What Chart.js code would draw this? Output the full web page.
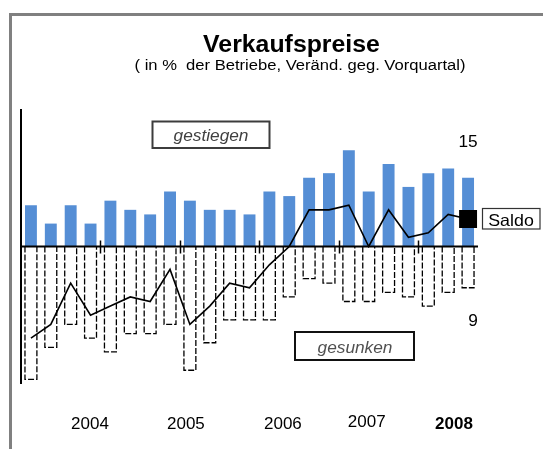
<!DOCTYPE html>
<html>
<head>
<meta charset="utf-8">
<script src="https://cdn.jsdelivr.net/npm/chart.js@4.4.1/dist/chart.umd.min.js"></script>
<style>
    html, body { margin: 0; padding: 0; background: #fff; }
    #wrap { position: relative; width: 543px; height: 449px; overflow: hidden; }
    #frame { position: absolute; left: 9px; top: 13px; right: -10px; bottom: -10px;
             border-left: 3px solid #808080; border-top: 3px solid #808080; pointer-events: none; }
    canvas { position: absolute; left: 0; top: 0; }
</style>
</head>
<body>
<div id="wrap">
    <canvas id="chart" width="543" height="449"></canvas>
    <div id="frame"></div>
</div>
<script>
const quarters = [
    '2003 Q1', '2003 Q2', '2003 Q3', '2003 Q4',
    '2004 Q1', '2004 Q2', '2004 Q3', '2004 Q4',
    '2005 Q1', '2005 Q2', '2005 Q3', '2005 Q4',
    '2006 Q1', '2006 Q2', '2006 Q3', '2006 Q4',
    '2007 Q1', '2007 Q2', '2007 Q3', '2007 Q4',
    '2008 Q1', '2008 Q2', '2008 Q3'
];
const gestiegen = [9, 5, 9, 5, 10, 8, 7, 12, 10, 8, 8, 7, 12, 11, 15, 16, 21, 12, 18, 13, 16, 17, 15];
const gesunken = [-29, -22, -17, -20, -23, -19, -19, -17, -27, -21, -16, -16, -16, -11, -7, -8, -12, -12, -10, -11, -13, -10, -9];
const saldo = [-20, -17, -8, -15, -13, -11, -12, -5, -17, -13, -8, -9, -4, 0, 8, 8, 9, 0, 8, 2, 3, 7, 6];
const yearLabels = ['2004', '2005', '2006', '2007', '2008'];

// where the year captions sit, in category units (they are not centred on the groups)
const yearAt = [2.97, 7.8, 12.68, 16.9, 21.29];

const lastIdx = gestiegen.length - 1;

function drawText(ctx, txt, x, y, font, color, sx) {
    ctx.save();
    ctx.font = font;
    ctx.fillStyle = color;
    ctx.textAlign = 'center';
    ctx.textBaseline = 'alphabetic';
    ctx.translate(x, y);
    ctx.scale(sx || 1, 1);
    ctx.fillText(txt, 0, 0);
    ctx.restore();
}

function drawBox(ctx, x1, y1, x2, y2, color, lw) {
    ctx.save();
    ctx.strokeStyle = color;
    ctx.lineWidth = lw;
    ctx.strokeRect(x1, y1, x2 - x1, y2 - y1);
    ctx.restore();
}

const decor = {
    id: 'decor',
    afterDatasetDraw(chart, args) {
        if (args.index !== 1) return;
        const ctx = chart.ctx;
        ctx.save();
        ctx.strokeStyle = '#000';
        ctx.lineWidth = 1.3;
        ctx.setLineDash([6, 2]);
        args.meta.data.forEach(bar => {
            const p = bar.getProps(['x', 'y', 'base', 'width'], true);
            const l = p.x - p.width / 2, r = p.x + p.width / 2;
            ctx.beginPath();
            ctx.moveTo(l, p.base);
            ctx.lineTo(l, p.y);
            ctx.lineTo(r, p.y);
            ctx.lineTo(r, p.base);
            ctx.stroke();
        });
        ctx.restore();
    },
    afterDatasetsDraw(chart) {
        const ctx = chart.ctx;
        const xs = chart.scales.x, ys = chart.scales.y;
        const area = chart.chartArea;
        const y0 = ys.getPixelForValue(0);
        ctx.save();
        ctx.strokeStyle = '#000';
        // left axis
        ctx.lineWidth = 2;
        ctx.beginPath();
        ctx.moveTo(area.left, area.top);
        ctx.lineTo(area.left, area.bottom);
        ctx.stroke();
        // zero line
        ctx.beginPath();
        ctx.moveTo(area.left, y0);
        ctx.lineTo(area.right, y0);
        ctx.stroke();
        // year boundaries
        ctx.lineWidth = 1.5;
        for (let i = 4; i < quarters.length; i += 4) {
            const x = Math.round(xs.getPixelForValue(i - 0.5)) + 0.5;
            ctx.beginPath();
            ctx.moveTo(x, y0 - 6);
            ctx.lineTo(x, y0 + 7);
            ctx.stroke();
        }
        ctx.restore();
    },
    afterDraw(chart) {
        const ctx = chart.ctx;
        const xs = chart.scales.x;
        const font = '"Liberation Sans", Arial, sans-serif';

        drawText(ctx, 'Verkaufspreise', 291.5, 52, 'bold 23px ' + font, '#000', 1.08);
        drawText(ctx, '( in %  der Betriebe, Veränd. geg. Vorquartal)', 300, 70, '15.5px ' + font, '#000', 1.07);

        drawBox(ctx, 152.5, 121.5, 269.5, 148, '#3c3c3c', 2);
        drawText(ctx, 'gestiegen', 211, 141, 'italic 16px ' + font, '#404040', 1.08);

        drawBox(ctx, 295, 332, 414, 360, '#111', 2);
        drawText(ctx, 'gesunken', 355, 353, 'italic 16px ' + font, '#505050', 1.08);

        drawBox(ctx, 482.5, 208.5, 540, 229, '#333', 1.2);
        drawText(ctx, 'Saldo', 511, 226, '16.5px ' + font, '#000', 1.08);

        // latest values next to the last bars
        const up = chart.getDatasetMeta(0).data[lastIdx];
        const down = chart.getDatasetMeta(1).data[lastIdx];
        drawText(ctx, String(gestiegen[lastIdx]), up.x, up.y - 31, '16px ' + font, '#000', 1.08);
        drawText(ctx, String(-gesunken[lastIdx]), down.x + 5, down.y + 38, '16px ' + font, '#000', 1.08);

        yearLabels.forEach((yr, i) => {
            const bold = i === yearLabels.length - 1;
            const base = yr === '2007' ? 427 : 429;
            drawText(ctx, yr, xs.getPixelForValue(yearAt[i]), base,
                (bold ? 'bold ' : '') + '17px ' + font, '#000', 1);
        });
    }
};

new Chart(document.getElementById('chart'), {
    type: 'bar',
    data: {
        labels: quarters,
        datasets: [{
            label: 'gestiegen',
            data: gestiegen,
            backgroundColor: '#558ED5',
            borderWidth: 0,
            barPercentage: 0.6,
            categoryPercentage: 1,
            order: 2
        }, {
            label: 'gesunken',
            data: gesunken,
            backgroundColor: '#ffffff',
            borderWidth: 0,
            barPercentage: 0.6,
            categoryPercentage: 1,
            order: 1
        }, {
            type: 'line',
            label: 'Saldo',
            data: saldo,
            stack: 'saldo',
            borderColor: '#000',
            borderWidth: 1.6,
            tension: 0,
            pointStyle: 'rect',
            pointBackgroundColor: '#000',
            pointBorderColor: '#000',
            pointBorderWidth: 0,
            pointRadius: c => (c.dataIndex === lastIdx ? 12.7 : 0),
            order: 0
        }]
    },
    options: {
        responsive: false,
        animation: false,
        layout: { padding: { left: 21, right: 65, top: 109, bottom: 65 } },
        scales: {
            x: { display: false, stacked: true },
            y: { display: false, stacked: true, min: -30, max: 30 }
        },
        plugins: {
            legend: { display: false },
            tooltip: { enabled: false }
        }
    },
    plugins: [decor]
});
</script>
</body>
</html>
